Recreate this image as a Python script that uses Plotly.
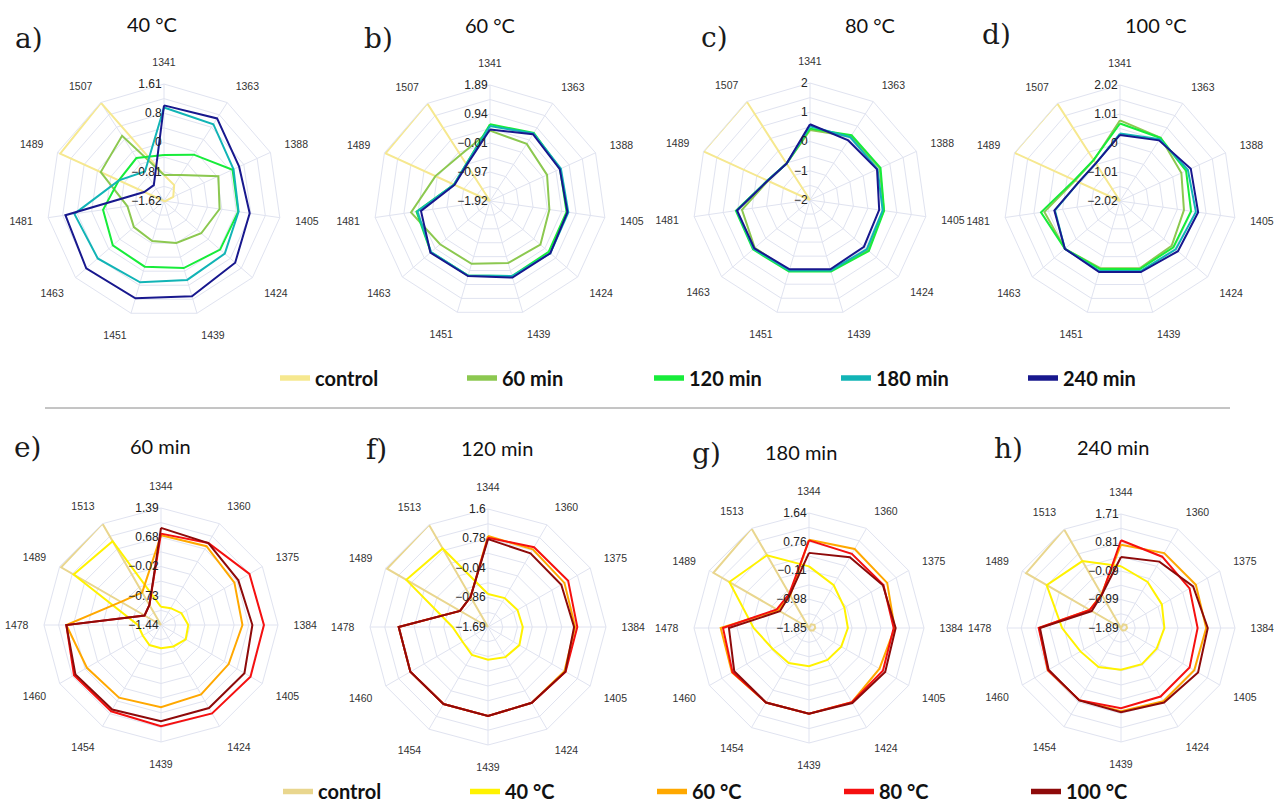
import numpy as np
import plotly.graph_objects as go

W, H = 1274, 805

cats_top = ["1341", "1363", "1388", "1405", "1424", "1439", "1451", "1463", "1481", "1489", "1507"]
cats_bot = ["1344", "1360", "1375", "1384", "1405", "1424", "1439", "1454", "1460", "1478", "1489", "1513"]

# ---- top row: temperature panels, series = time ----
a_control = [-0.90, -1.10, -1.34, -1.58, -1.62, -1.62, -1.62, -1.62, -1.62, 1.53, 1.60]
a_60 = [-0.90, -0.77, 0.03, -0.07, -0.26, -0.41, -0.47, -0.52, -0.60, 0.30, 0.52]
a_120 = [-0.35, -0.10, 0.46, 0.45, 0.43, 0.31, 0.27, 0.25, 0.08, -0.25, -0.21]
a_180 = [0.96, 0.90, 0.49, 0.46, 0.60, 0.65, 0.72, 0.80, 0.88, -0.25, -0.65]
a_240 = [1.02, 1.09, 0.66, 0.77, 0.98, 1.12, 1.18, 1.22, 1.13, -1.02, -1.10]

b_control = [-1.92, -1.92, -1.92, -1.92, -1.92, -1.92, -1.92, -1.92, -1.92, 1.85, 1.89]
b_60 = [0.39, 0.31, 0.14, 0.05, 0.27, 0.20, 0.23, 0.25, 0.70, 0.05, -0.12]
b_120 = [0.60, 0.74, 0.61, 0.62, 0.63, 0.65, 0.63, 0.65, 0.52, -0.62, -0.48]
b_180 = [0.54, 0.72, 0.64, 0.68, 0.70, 0.65, 0.63, 0.64, 0.49, -0.62, -0.48]
b_240 = [0.43, 0.69, 0.60, 0.65, 0.70, 0.70, 0.65, 0.67, 0.37, -0.64, -0.51]

c_control = [-2.0, -2.0, -2.0, -2.0, -2.0, -2.0, -2.0, -2.0, -2.0, 2.0, 2.0]
c_60 = [0.39, 0.58, 0.62, 0.55, 0.60, 0.52, 0.52, 0.50, 0.35, -0.42, -0.52]
c_120 = [0.44, 0.63, 0.65, 0.56, 0.66, 0.55, 0.55, 0.58, 0.56, -0.40, -0.52]
c_180 = [0.52, 0.55, 0.54, 0.51, 0.57, 0.51, 0.51, 0.55, 0.53, -0.40, -0.52]
c_240 = [0.59, 0.42, 0.52, 0.39, 0.44, 0.47, 0.47, 0.52, 0.52, -0.41, -0.52]

d_control = [-2.02, -2.02, -2.02, -2.02, -2.02, -2.02, -2.02, -2.02, -2.02, 2.02, 2.02]
d_60 = [0.79, 0.60, 0.33, 0.23, 0.36, 0.42, 0.42, 0.52, 0.64, -0.30, -0.33]
d_120 = [0.68, 0.59, 0.51, 0.48, 0.44, 0.45, 0.45, 0.52, 0.76, -0.27, -0.32]
d_180 = [0.33, 0.54, 0.58, 0.65, 0.55, 0.52, 0.52, 0.52, 0.27, -0.44, -0.46]
d_240 = [0.28, 0.49, 0.69, 0.73, 0.65, 0.56, 0.56, 0.52, 0.29, -0.44, -0.46]

# ---- bottom row: time panels, series = temperature ----
e_control = [-1.44, -1.44, -1.44, -1.44, -1.44, -1.44, -1.44, -1.44, -1.44, -1.44, 1.35, 1.39]
e_40 = [-1.00, -0.97, -0.87, -0.78, -0.75, -0.84, -0.88, -0.88, -0.93, -0.88, 1.00, 0.90]
e_60 = [0.73, 0.76, 0.61, 0.53, 0.45, 0.50, 0.55, 0.59, 0.63, 0.85, -0.32, -0.53]
e_80 = [0.77, 0.85, 1.03, 1.05, 1.06, 1.03, 1.01, 0.97, 0.99, 0.85, -0.98, -0.88]
e_100 = [0.91, 0.85, 0.72, 0.77, 0.89, 0.88, 0.89, 0.92, 0.95, 0.85, -0.98, -0.88]

f_control = [-1.69, -1.69, -1.69, -1.69, -1.69, -1.69, -1.69, -1.69, -1.69, -1.69, 1.56, 1.60]
f_40 = [-0.77, -0.76, -0.74, -0.72, -0.68, -0.72, -0.78, -0.79, -0.87, -0.70, 0.94, 0.84]
f_60 = [0.85, 0.81, 0.77, 0.74, 0.77, 0.75, 0.79, 0.79, 0.81, 0.80, -0.79, -0.72]
f_80 = [0.80, 0.88, 0.89, 0.80, 0.81, 0.75, 0.79, 0.79, 0.81, 0.80, -0.79, -0.72]
f_100 = [0.76, 0.68, 0.67, 0.71, 0.80, 0.75, 0.79, 0.79, 0.81, 0.80, -0.79, -0.72]

g_control = [-1.85, -1.72, -1.66, -1.66, -1.70, -1.76, -1.82, -1.85, -1.85, -1.85, 1.50, 1.64]
g_40 = [0.02, -0.35, -0.61, -0.67, -0.72, -0.73, -0.69, -0.62, -0.58, -0.17, 0.94, 0.70]
g_60 = [0.83, 0.92, 0.89, 0.75, 0.62, 0.75, 0.75, 0.76, 0.85, 0.83, -0.77, -0.71]
g_80 = [0.81, 0.75, 0.76, 0.72, 0.74, 0.75, 0.75, 0.76, 0.83, 0.76, -0.72, -0.65]
g_100 = [0.43, 0.63, 0.74, 0.78, 0.82, 0.78, 0.75, 0.76, 0.77, 0.58, -0.83, -0.69]

h_control = [-1.89, -1.76, -1.70, -1.70, -1.74, -1.80, -1.86, -1.89, -1.89, -1.89, 1.57, 1.71]
h_40 = [0.06, -0.21, -0.40, -0.52, -0.59, -0.57, -0.57, -0.47, -0.41, -0.03, 0.82, 0.55]
h_60 = [0.74, 0.84, 0.84, 0.80, 0.78, 0.78, 0.74, 0.74, 0.78, 0.69, -0.75, -0.66]
h_80 = [0.88, 0.71, 0.61, 0.53, 0.61, 0.61, 0.64, 0.74, 0.77, 0.71, -0.75, -0.68]
h_100 = [0.35, 0.53, 0.74, 0.85, 0.92, 0.83, 0.77, 0.75, 0.75, 0.67, -0.82, -0.68]

# radial ranges and labels
rng = {
    "a": (-1.62, 1.61, ["−1.62", "−0.81", "0", "0.8", "1.61"]),
    "b": (-1.92, 1.89, ["−1.92", "−0.97", "−0.01", "0.94", "1.89"]),
    "c": (-2.0, 2.0, ["−2", "−1", "0", "1", "2"]),
    "d": (-2.02, 2.02, ["−2.02", "−1.01", "0", "1.01", "2.02"]),
    "e": (-1.44, 1.39, ["−1.44", "−0.73", "−0.02", "0.68", "1.39"]),
    "f": (-1.69, 1.60, ["−1.69", "−0.86", "−0.04", "0.78", "1.6"]),
    "g": (-1.85, 1.64, ["−1.85", "−0.98", "−0.11", "0.76", "1.64"]),
    "h": (-1.89, 1.71, ["−1.89", "−0.99", "−0.09", "0.81", "1.71"]),
}

top_names = ["control", "60 min", "120 min", "180 min", "240 min"]
top_colors = ["#F6E88F", "#8CC850", "#17EC3A", "#12B4B6", "#18188E"]
bot_names = ["control", "40 °C", "60 °C", "80 °C", "100 °C"]
bot_colors = ["#E9D68E", "#FFF200", "#FFA800", "#F51010", "#8E0A0A"]

panels = [
    ("a", "a)", "40 °C", cats_top, [a_control, a_60, a_120, a_180, a_240], top_colors),
    ("b", "b)", "60 °C", cats_top, [b_control, b_60, b_120, b_180, b_240], top_colors),
    ("c", "c)", "80 °C", cats_top, [c_control, c_60, c_120, c_180, c_240], top_colors),
    ("d", "d)", "100 °C", cats_top, [d_control, d_60, d_120, d_180, d_240], top_colors),
    ("e", "e)", "60 min", cats_bot, [e_control, e_40, e_60, e_80, e_100], bot_colors),
    ("f", "f)", "120 min", cats_bot, [f_control, f_40, f_60, f_80, f_100], bot_colors),
    ("g", "g)", "180 min", cats_bot, [g_control, g_40, g_60, g_80, g_100], bot_colors),
    ("h", "h)", "240 min", cats_bot, [h_control, h_40, h_60, h_80, h_100], bot_colors),
]

# layout geometry (pixels)
centers = [(164, 201, 117), (490, 201, 116), (810, 200, 117), (1120, 201, 116),
           (161, 625, 117), (488, 627, 118), (809, 628, 115), (1121, 628, 114)]
label_pos = [(29, 38), (378, 38), (714, 37), (996, 35), (28, 447), (376, 450), (706, 453), (1008, 448)]
title_pos = [(152, 24), (490, 25), (870, 25), (1156, 25), (160, 446), (497, 448), (801, 452), (1113, 447)]

GRID = "#E0E3F0"
TICKFONT = dict(family="Liberation Sans, Arial", size=10.5, color="#333333")

fig = go.Figure()
layout = dict(width=W, height=H, margin=dict(l=0, r=0, t=0, b=0, autoexpand=False),
              paper_bgcolor="white", plot_bgcolor="white", template="plotly_white",
              annotations=[], shapes=[])

for i, (key, lab, title, cats, series, colors) in enumerate(panels):
    pid = "polar" if i == 0 else f"polar{i+1}"
    rmin, rmax, ttext = rng[key]
    tv = list(np.linspace(rmin, rmax, 9))
    tt = []
    for j in range(9):
        tt.append(ttext[j // 2] if j % 2 == 0 else "")
    for s, col in zip(series, colors):
        fig.add_trace(go.Scatterpolar(
            r=s + [s[0]], theta=cats + [cats[0]], mode="lines",
            line=dict(color=col, width=2), subplot=pid, showlegend=False,
            hoverinfo="skip"))
    cx, cy, R = centers[i]
    layout[pid] = dict(
        domain=dict(x=[(cx - R) / W, (cx + R) / W], y=[1 - (cy + R) / H, 1 - (cy - R) / H]),
        bgcolor="white", gridshape="linear",
        angularaxis=dict(direction="clockwise", rotation=90, type="category",
                         categoryarray=cats, gridcolor=GRID, linecolor=GRID, showline=True,
                         ticks="outside", ticklen=13, tickcolor="rgba(0,0,0,0)",
                         tickfont=TICKFONT),
        radialaxis=dict(range=[rmin, rmax], tickvals=tv, ticktext=tt, angle=90,
                        side="counterclockwise",
                        showline=False, gridcolor=GRID, ticks="", tickangle=90,
                        tickfont=dict(family="Liberation Sans, Arial", size=12, color="#222222")),
    )
    lx, ly = label_pos[i]
    layout["annotations"].append(dict(text=lab, x=lx / W, y=1 - ly / H, xref="paper", yref="paper",
                                      showarrow=False, xanchor="center", yanchor="middle",
                                      font=dict(family="DejaVu Serif", size=28, color="#1A1A1A")))
    tx, ty = title_pos[i]
    layout["annotations"].append(dict(text=title, x=tx / W, y=1 - ty / H, xref="paper", yref="paper",
                                      showarrow=False, xanchor="center", yanchor="middle",
                                      font=dict(family="Lato", size=20, color="#111111")))

# legend entries
for name, col in zip(top_names, top_colors):
    fig.add_trace(go.Scatterpolar(r=[None], theta=[cats_top[0]], mode="lines", name=name,
                                  line=dict(color=col, width=5.5), subplot="polar",
                                  legend="legend", showlegend=True, hoverinfo="skip"))
for name, col in zip(bot_names, bot_colors):
    fig.add_trace(go.Scatterpolar(r=[None], theta=[cats_bot[0]], mode="lines", name=name,
                                  line=dict(color=col, width=5.5), subplot="polar5",
                                  legend="legend2", showlegend=True, hoverinfo="skip"))

legfont = dict(family="Lato", size=20, color="#111111", weight="bold")
layout["legend"] = dict(orientation="h", x=275 / W, y=1 - 378 / H, xanchor="left", yanchor="middle",
                        font=legfont, entrywidth=142, entrywidthmode="pixels",
                        bgcolor="rgba(0,0,0,0)", traceorder="normal")
layout["legend2"] = dict(orientation="h", x=278 / W, y=-6 / H, xanchor="left", yanchor="bottom",
                         font=legfont, entrywidth=142, entrywidthmode="pixels",
                         bgcolor="rgba(0,0,0,0)", traceorder="normal")
layout["showlegend"] = True

layout["shapes"].append(dict(type="line", xref="paper", yref="paper", x0=45 / W, x1=1230 / W,
                             y0=1 - 408 / H, y1=1 - 408 / H, line=dict(color="#8A8A8A", width=1)))

fig.update_layout(**layout)
fig.write_html("out.html")
